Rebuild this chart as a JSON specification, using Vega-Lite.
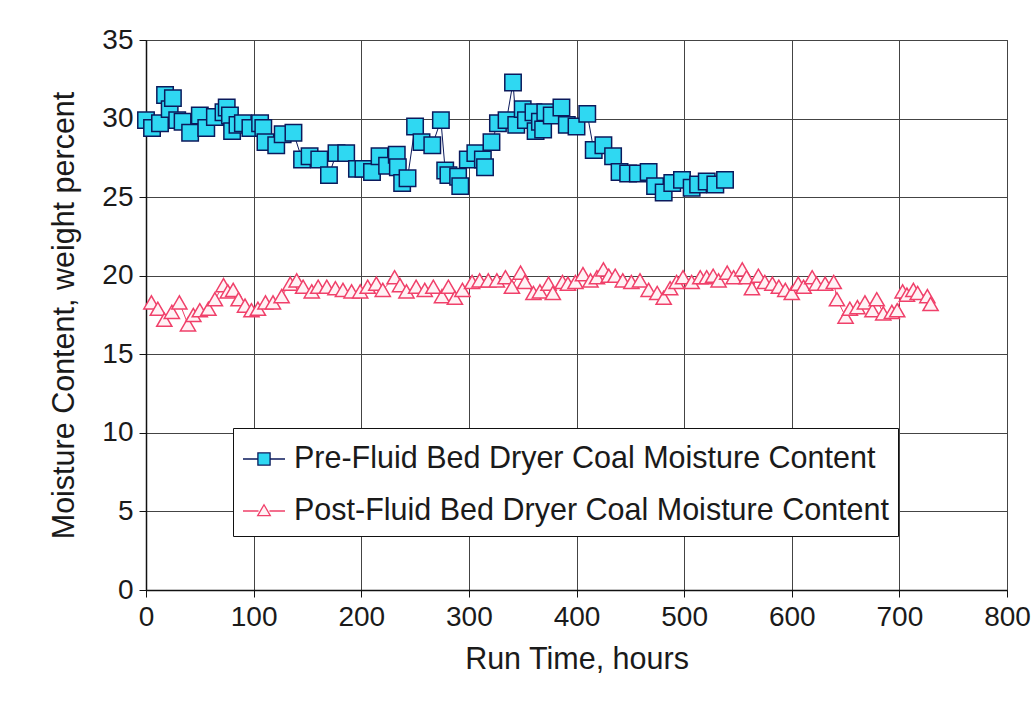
{
  "$schema": "https://vega.github.io/schema/vega-lite/v6.json",
  "width": 861,
  "height": 550,
  "autosize": "none",
  "padding": {"left": 146, "top": 40, "right": 29, "bottom": 116},
  "background": "white",
  "config": {
    "font": "Liberation Sans",
    "view": {"stroke": "#333", "strokeWidth": 1},
    "axis": {
      "gridColor": "#444",
      "gridWidth": 1,
      "gridOpacity": 1,
      "domainColor": "#111",
      "domainWidth": 1.5,
      "tickColor": "#111",
      "tickSize": 7,
      "labelFont": "Liberation Sans",
      "labelFontSize": 28,
      "labelColor": "#1a1a1a",
      "titleFont": "Liberation Sans",
      "titleFontSize": 30.5,
      "titleFontWeight": "normal",
      "titleColor": "#1a1a1a"
    }
  },
  "data": {
    "values": [
      {"series": "Pre", "hours": 0, "moisture": 29.9},
      {"series": "Pre", "hours": 5.6, "moisture": 29.4},
      {"series": "Pre", "hours": 13, "moisture": 29.7},
      {"series": "Pre", "hours": 17.7, "moisture": 31.5},
      {"series": "Pre", "hours": 22, "moisture": 30.6},
      {"series": "Pre", "hours": 25, "moisture": 31.3},
      {"series": "Pre", "hours": 29, "moisture": 29.9},
      {"series": "Pre", "hours": 34, "moisture": 29.8},
      {"series": "Pre", "hours": 41, "moisture": 29.1},
      {"series": "Pre", "hours": 50, "moisture": 30.2},
      {"series": "Pre", "hours": 56, "moisture": 29.4},
      {"series": "Pre", "hours": 64, "moisture": 30.1},
      {"series": "Pre", "hours": 72, "moisture": 30.4},
      {"series": "Pre", "hours": 75, "moisture": 30.7},
      {"series": "Pre", "hours": 78, "moisture": 30.2},
      {"series": "Pre", "hours": 80, "moisture": 29.2},
      {"series": "Pre", "hours": 85, "moisture": 29.6},
      {"series": "Pre", "hours": 90, "moisture": 29.7},
      {"series": "Pre", "hours": 97, "moisture": 29.4},
      {"series": "Pre", "hours": 106, "moisture": 29.7},
      {"series": "Pre", "hours": 109, "moisture": 29.4},
      {"series": "Pre", "hours": 111, "moisture": 28.5},
      {"series": "Pre", "hours": 121, "moisture": 28.3},
      {"series": "Pre", "hours": 127, "moisture": 29.0},
      {"series": "Pre", "hours": 137, "moisture": 29.1},
      {"series": "Pre", "hours": 145, "moisture": 27.4},
      {"series": "Pre", "hours": 152, "moisture": 27.6},
      {"series": "Pre", "hours": 161, "moisture": 27.4},
      {"series": "Pre", "hours": 170, "moisture": 26.4},
      {"series": "Pre", "hours": 177, "moisture": 27.8},
      {"series": "Pre", "hours": 186, "moisture": 27.8},
      {"series": "Pre", "hours": 196, "moisture": 26.8},
      {"series": "Pre", "hours": 202, "moisture": 26.8},
      {"series": "Pre", "hours": 210, "moisture": 26.6},
      {"series": "Pre", "hours": 217, "moisture": 27.6},
      {"series": "Pre", "hours": 224, "moisture": 27.0},
      {"series": "Pre", "hours": 233, "moisture": 27.7},
      {"series": "Pre", "hours": 234, "moisture": 26.9},
      {"series": "Pre", "hours": 238, "moisture": 25.9},
      {"series": "Pre", "hours": 243, "moisture": 26.2},
      {"series": "Pre", "hours": 250, "moisture": 29.5},
      {"series": "Pre", "hours": 256, "moisture": 28.5},
      {"series": "Pre", "hours": 266, "moisture": 28.3},
      {"series": "Pre", "hours": 274, "moisture": 29.9},
      {"series": "Pre", "hours": 278, "moisture": 26.7},
      {"series": "Pre", "hours": 281, "moisture": 26.4},
      {"series": "Pre", "hours": 290, "moisture": 26.3},
      {"series": "Pre", "hours": 292, "moisture": 25.7},
      {"series": "Pre", "hours": 299, "moisture": 27.4},
      {"series": "Pre", "hours": 306, "moisture": 27.8},
      {"series": "Pre", "hours": 313, "moisture": 27.4},
      {"series": "Pre", "hours": 315, "moisture": 26.9},
      {"series": "Pre", "hours": 321, "moisture": 28.5},
      {"series": "Pre", "hours": 327, "moisture": 29.7},
      {"series": "Pre", "hours": 335, "moisture": 29.9},
      {"series": "Pre", "hours": 341, "moisture": 32.3},
      {"series": "Pre", "hours": 344, "moisture": 29.6},
      {"series": "Pre", "hours": 350, "moisture": 30.6},
      {"series": "Pre", "hours": 353, "moisture": 29.9},
      {"series": "Pre", "hours": 360, "moisture": 30.4},
      {"series": "Pre", "hours": 362, "moisture": 29.2},
      {"series": "Pre", "hours": 366, "moisture": 29.8},
      {"series": "Pre", "hours": 369, "moisture": 29.3},
      {"series": "Pre", "hours": 371, "moisture": 30.4},
      {"series": "Pre", "hours": 377, "moisture": 30.2},
      {"series": "Pre", "hours": 386, "moisture": 30.7},
      {"series": "Pre", "hours": 391, "moisture": 29.6},
      {"series": "Pre", "hours": 400, "moisture": 29.5},
      {"series": "Pre", "hours": 410, "moisture": 30.3},
      {"series": "Pre", "hours": 416, "moisture": 28.0},
      {"series": "Pre", "hours": 425, "moisture": 28.3},
      {"series": "Pre", "hours": 434, "moisture": 27.6},
      {"series": "Pre", "hours": 440, "moisture": 26.6},
      {"series": "Pre", "hours": 448, "moisture": 26.5},
      {"series": "Pre", "hours": 457, "moisture": 26.5},
      {"series": "Pre", "hours": 467, "moisture": 26.6},
      {"series": "Pre", "hours": 473, "moisture": 25.7},
      {"series": "Pre", "hours": 481, "moisture": 25.3},
      {"series": "Pre", "hours": 489, "moisture": 25.9},
      {"series": "Pre", "hours": 498, "moisture": 26.1},
      {"series": "Pre", "hours": 507, "moisture": 25.6},
      {"series": "Pre", "hours": 513, "moisture": 25.8},
      {"series": "Pre", "hours": 521, "moisture": 26.0},
      {"series": "Pre", "hours": 529, "moisture": 25.8},
      {"series": "Pre", "hours": 538, "moisture": 26.1},
      {"series": "Post", "hours": 5, "moisture": 18.3},
      {"series": "Post", "hours": 11, "moisture": 17.9},
      {"series": "Post", "hours": 17, "moisture": 17.2},
      {"series": "Post", "hours": 24, "moisture": 17.7},
      {"series": "Post", "hours": 31, "moisture": 18.3},
      {"series": "Post", "hours": 39, "moisture": 16.9},
      {"series": "Post", "hours": 44, "moisture": 17.5},
      {"series": "Post", "hours": 50, "moisture": 17.8},
      {"series": "Post", "hours": 58, "moisture": 17.9},
      {"series": "Post", "hours": 64, "moisture": 18.5},
      {"series": "Post", "hours": 72, "moisture": 19.4},
      {"series": "Post", "hours": 76, "moisture": 19.0},
      {"series": "Post", "hours": 81, "moisture": 19.1},
      {"series": "Post", "hours": 86, "moisture": 18.5},
      {"series": "Post", "hours": 92, "moisture": 18.1},
      {"series": "Post", "hours": 98, "moisture": 17.8},
      {"series": "Post", "hours": 104, "moisture": 17.9},
      {"series": "Post", "hours": 111, "moisture": 18.3},
      {"series": "Post", "hours": 118, "moisture": 18.3},
      {"series": "Post", "hours": 126, "moisture": 18.7},
      {"series": "Post", "hours": 134, "moisture": 19.5},
      {"series": "Post", "hours": 140, "moisture": 19.7},
      {"series": "Post", "hours": 146, "moisture": 19.3},
      {"series": "Post", "hours": 154, "moisture": 19.0},
      {"series": "Post", "hours": 160, "moisture": 19.3},
      {"series": "Post", "hours": 168, "moisture": 19.3},
      {"series": "Post", "hours": 176, "moisture": 19.2},
      {"series": "Post", "hours": 183, "moisture": 19.1},
      {"series": "Post", "hours": 191, "moisture": 19.0},
      {"series": "Post", "hours": 199, "moisture": 19.0},
      {"series": "Post", "hours": 206, "moisture": 19.3},
      {"series": "Post", "hours": 214, "moisture": 19.5},
      {"series": "Post", "hours": 220, "moisture": 19.1},
      {"series": "Post", "hours": 231, "moisture": 19.9},
      {"series": "Post", "hours": 236, "moisture": 19.4},
      {"series": "Post", "hours": 242, "moisture": 19.0},
      {"series": "Post", "hours": 251, "moisture": 19.3},
      {"series": "Post", "hours": 259, "moisture": 19.1},
      {"series": "Post", "hours": 267, "moisture": 19.3},
      {"series": "Post", "hours": 275, "moisture": 18.7},
      {"series": "Post", "hours": 281, "moisture": 19.3},
      {"series": "Post", "hours": 287, "moisture": 18.6},
      {"series": "Post", "hours": 294, "moisture": 19.1},
      {"series": "Post", "hours": 303, "moisture": 19.6},
      {"series": "Post", "hours": 310, "moisture": 19.7},
      {"series": "Post", "hours": 318, "moisture": 19.7},
      {"series": "Post", "hours": 326, "moisture": 19.7},
      {"series": "Post", "hours": 334, "moisture": 19.9},
      {"series": "Post", "hours": 340, "moisture": 19.3},
      {"series": "Post", "hours": 348, "moisture": 20.2},
      {"series": "Post", "hours": 352, "moisture": 19.6},
      {"series": "Post", "hours": 360, "moisture": 18.9},
      {"series": "Post", "hours": 366, "moisture": 19.0},
      {"series": "Post", "hours": 374, "moisture": 19.5},
      {"series": "Post", "hours": 378, "moisture": 18.9},
      {"series": "Post", "hours": 387, "moisture": 19.6},
      {"series": "Post", "hours": 392, "moisture": 19.5},
      {"series": "Post", "hours": 399, "moisture": 19.6},
      {"series": "Post", "hours": 406, "moisture": 20.1},
      {"series": "Post", "hours": 413, "moisture": 19.7},
      {"series": "Post", "hours": 419, "moisture": 19.9},
      {"series": "Post", "hours": 425, "moisture": 20.4},
      {"series": "Post", "hours": 430, "moisture": 20.0},
      {"series": "Post", "hours": 436, "moisture": 20.0},
      {"series": "Post", "hours": 443, "moisture": 19.7},
      {"series": "Post", "hours": 451, "moisture": 19.6},
      {"series": "Post", "hours": 459, "moisture": 19.7},
      {"series": "Post", "hours": 467, "moisture": 19.1},
      {"series": "Post", "hours": 475, "moisture": 18.9},
      {"series": "Post", "hours": 481, "moisture": 18.6},
      {"series": "Post", "hours": 487, "moisture": 19.2},
      {"series": "Post", "hours": 493, "moisture": 19.6},
      {"series": "Post", "hours": 499, "moisture": 19.9},
      {"series": "Post", "hours": 507, "moisture": 19.6},
      {"series": "Post", "hours": 515, "moisture": 19.9},
      {"series": "Post", "hours": 521, "moisture": 19.9},
      {"series": "Post", "hours": 527, "moisture": 20.0},
      {"series": "Post", "hours": 532, "moisture": 19.7},
      {"series": "Post", "hours": 540, "moisture": 20.2},
      {"series": "Post", "hours": 546, "moisture": 19.9},
      {"series": "Post", "hours": 554, "moisture": 20.4},
      {"series": "Post", "hours": 558, "moisture": 19.9},
      {"series": "Post", "hours": 563, "moisture": 19.2},
      {"series": "Post", "hours": 569, "moisture": 20.0},
      {"series": "Post", "hours": 575, "moisture": 19.6},
      {"series": "Post", "hours": 582, "moisture": 19.5},
      {"series": "Post", "hours": 588, "moisture": 19.3},
      {"series": "Post", "hours": 594, "moisture": 19.1},
      {"series": "Post", "hours": 600, "moisture": 18.9},
      {"series": "Post", "hours": 606, "moisture": 19.5},
      {"series": "Post", "hours": 611, "moisture": 19.3},
      {"series": "Post", "hours": 619, "moisture": 19.9},
      {"series": "Post", "hours": 623, "moisture": 19.5},
      {"series": "Post", "hours": 631, "moisture": 19.5},
      {"series": "Post", "hours": 639, "moisture": 19.6},
      {"series": "Post", "hours": 642, "moisture": 18.5},
      {"series": "Post", "hours": 650, "moisture": 17.4},
      {"series": "Post", "hours": 654, "moisture": 17.9},
      {"series": "Post", "hours": 661, "moisture": 18.0},
      {"series": "Post", "hours": 668, "moisture": 18.3},
      {"series": "Post", "hours": 675, "moisture": 17.8},
      {"series": "Post", "hours": 679, "moisture": 18.5},
      {"series": "Post", "hours": 685, "moisture": 17.6},
      {"series": "Post", "hours": 693, "moisture": 17.7},
      {"series": "Post", "hours": 698, "moisture": 17.8},
      {"series": "Post", "hours": 703, "moisture": 19.0},
      {"series": "Post", "hours": 707, "moisture": 18.8},
      {"series": "Post", "hours": 713, "moisture": 19.1},
      {"series": "Post", "hours": 717, "moisture": 18.9},
      {"series": "Post", "hours": 726, "moisture": 18.7},
      {"series": "Post", "hours": 729, "moisture": 18.2}
    ]
  },
  "encoding": {
    "x": {
      "field": "hours",
      "type": "quantitative",
      "scale": {"domain": [0, 800], "nice": false, "zero": false},
      "axis": {"values": [0, 100, 200, 300, 400, 500, 600, 700, 800], "title": "Run Time, hours", "labelPadding": 6, "titlePadding": 13, "labelFlush": false}
    },
    "y": {
      "field": "moisture",
      "type": "quantitative",
      "scale": {"domain": [0, 35], "nice": false},
      "axis": {"values": [0, 5, 10, 15, 20, 25, 30, 35], "title": "Moisture Content, weight percent", "labelPadding": 6, "titlePadding": 22}
    }
  },
  "layer": [
    {
      "mark": {"type": "line", "strokeWidth": 1},
      "encoding": {
        "stroke": {
          "field": "series",
          "type": "nominal",
          "scale": {"domain": ["Pre", "Post"], "range": ["#0B1A5C", "#F0406A"]},
          "legend": {
            "title": null,
            "orient": "none",
            "legendX": 87,
            "legendY": 388,
            "direction": "vertical",
            "fillColor": "white",
            "strokeColor": "#111",
            "padding": 9,
            "rowPadding": 14,
            "symbolSize": 1764,
            "symbolStrokeWidth": 1.3,
            "labelFontSize": 30.5,
            "labelFont": "Liberation Sans",
            "labelColor": "#1a1a1a",
            "labelLimit": 800,
            "labelOffset": 8,
            "labelExpr": "datum.value == 'Pre' ? 'Pre-Fluid Bed Dryer Coal Moisture Content' : 'Post-Fluid Bed Dryer Coal Moisture Content'",
            "encode": {
              "symbols": {
                "update": {
                  "shape": {"signal": "datum.value == 'Pre' ? 'M-1,0H-0.29M0.29,0H1M-0.29,-0.29H0.29V0.29H-0.29Z' : 'M-1,0H-0.26M0.26,0H1M0,-0.3L0.3,0.22H-0.3Z'"},
                  "fill": {"signal": "datum.value == 'Pre' ? '#2FD8F2' : '#FFF2F5'"},
                  "stroke": {"signal": "datum.value == 'Pre' ? '#0B1A5C' : '#F0406A'"},
                  "strokeWidth": {"value": 1.3},
                  "opacity": {"value": 1},
                  "fillOpacity": {"value": 1}
                }
              }
            }
          }
        },
        "detail": {"field": "series"}
      }
    },
    {
      "transform": [{"filter": "datum.series == 'Pre'"}],
      "mark": {"type": "point", "shape": "square", "filled": false, "opacity": 1, "strokeWidth": 1.5, "fill": "#2FD8F2", "fillOpacity": 1, "stroke": "#0B1A5C", "size": 270},
      "encoding": {}
    },
    {
      "transform": [{"filter": "datum.series == 'Post'"}],
      "mark": {"type": "point", "shape": "triangle-up", "filled": false, "opacity": 1, "strokeWidth": 1.5, "fill": "#FFF2F5", "fillOpacity": 1, "stroke": "#F0406A", "size": 230},
      "encoding": {}
    }
  ]
}
